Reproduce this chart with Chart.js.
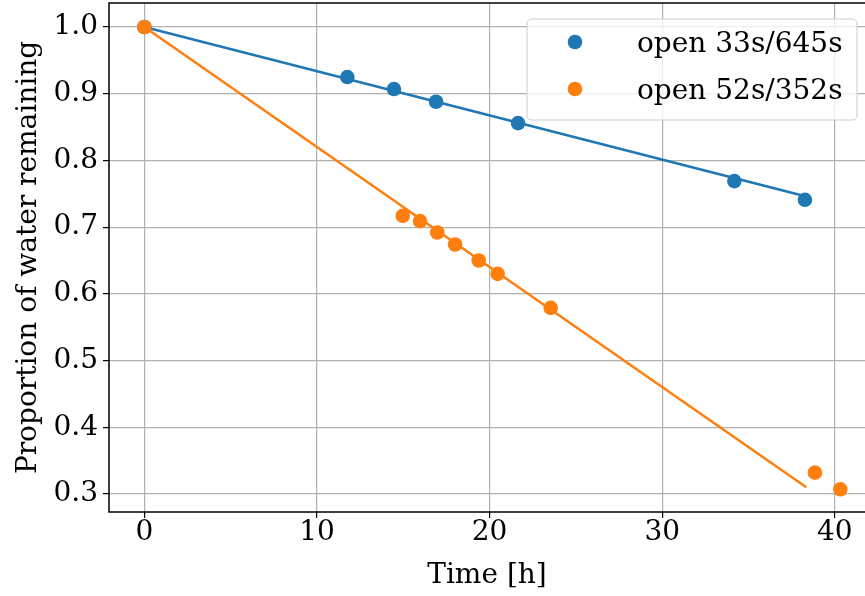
<!DOCTYPE html>
<html>
<head>
<meta charset="utf-8">
<script src="https://cdn.jsdelivr.net/npm/chart.js@4.4.1/dist/chart.umd.min.js"></script>
<style>
  html, body { margin: 0; padding: 0; background: #fff; }
</style>
</head>
<body>
<canvas id="waterChart" width="865" height="596"></canvas>
<script>
// measured points
const blueTime = [0, 11.76, 14.46, 16.9, 21.65, 34.18, 38.27];
const blueWater = [1.0, 0.925, 0.907, 0.888, 0.856, 0.769, 0.741];
const orangeTime = [0, 14.97, 15.97, 16.97, 18.0, 19.37, 20.47, 23.54, 38.85, 40.32];
const orangeWater = [1.0, 0.717, 0.709, 0.692, 0.674, 0.650, 0.630, 0.579, 0.332, 0.307];

// fitted lines (end points)
const blueFitTime = [0, 38.35];
const blueFitWater = [1.0, 0.746];
const orangeFitTime = [0, 38.35];
const orangeFitWater = [1.0, 0.310];

const seriesLabels = ['open 33s/645s', 'open 52s/352s'];
const xTicks = [0, 10, 20, 30, 40];
const yTicks = [0.3, 0.4, 0.5, 0.6, 0.7, 0.8, 0.9, 1.0];

const BLUE = '#1f77b4';
const ORANGE = '#ff7f0e';
const FONT = 'DejaVu Serif';

function toPoints(xs, ys) {
  return xs.map((x, i) => ({ x: x, y: ys[i] }));
}

// spines (left, top, bottom) and the in-plot legend box
const frameAndLegend = {
  id: 'frameAndLegend',
  afterDraw(chart) {
    const { ctx, chartArea: a } = chart;
    ctx.save();
    ctx.strokeStyle = '#000';
    ctx.lineWidth = 1.5;
    ctx.beginPath();
    ctx.moveTo(a.right, a.top);
    ctx.lineTo(a.left, a.top);
    ctx.lineTo(a.left, a.bottom);
    ctx.lineTo(a.right, a.bottom);
    ctx.stroke();

    const x0 = a.right - 338, y0 = a.top + 16, w = 330, h = 101, r = 5;
    ctx.beginPath();
    ctx.moveTo(x0 + r, y0);
    ctx.lineTo(x0 + w - r, y0);
    ctx.quadraticCurveTo(x0 + w, y0, x0 + w, y0 + r);
    ctx.lineTo(x0 + w, y0 + h - r);
    ctx.quadraticCurveTo(x0 + w, y0 + h, x0 + w - r, y0 + h);
    ctx.lineTo(x0 + r, y0 + h);
    ctx.quadraticCurveTo(x0, y0 + h, x0, y0 + h - r);
    ctx.lineTo(x0, y0 + r);
    ctx.quadraticCurveTo(x0, y0, x0 + r, y0);
    ctx.closePath();
    ctx.fillStyle = 'rgba(255,255,255,0.8)';
    ctx.fill();
    ctx.strokeStyle = '#cccccc';
    ctx.lineWidth = 1;
    ctx.stroke();

    seriesLabels.forEach((label, i) => {
      const d = chart.data.datasets.find(ds => ds.label === label);
      const my = y0 + 23 + i * 47;
      ctx.beginPath();
      ctx.arc(x0 + 48, my, 7.3, 0, Math.PI * 2);
      ctx.fillStyle = d.backgroundColor;
      ctx.fill();
      ctx.fillStyle = '#000';
      ctx.font = '28px "' + FONT + '"';
      ctx.textBaseline = 'middle';
      ctx.textAlign = 'left';
      ctx.fillText(label, x0 + 110, my + 3);
    });
    ctx.restore();
  }
};

function noPad(s) {
  s.paddingTop = 0;
  s.paddingBottom = 0;
  s.paddingLeft = 0;
  s.paddingRight = 0;
}

new Chart(document.getElementById('waterChart'), {
  type: 'scatter',
  data: {
    datasets: [
      {
        label: seriesLabels[1],
        data: toPoints(orangeTime, orangeWater),
        backgroundColor: ORANGE,
        pointRadius: 7.3,
        pointBorderWidth: 0,
        order: 0
      },
      {
        data: toPoints(orangeFitTime, orangeFitWater),
        showLine: true,
        borderColor: ORANGE,
        borderWidth: 2.5,
        pointRadius: 0,
        order: 1
      },
      {
        label: seriesLabels[0],
        data: toPoints(blueTime, blueWater),
        backgroundColor: BLUE,
        pointRadius: 7.3,
        pointBorderWidth: 0,
        order: 2
      },
      {
        data: toPoints(blueFitTime, blueFitWater),
        showLine: true,
        borderColor: BLUE,
        borderWidth: 2.5,
        pointRadius: 0,
        order: 3
      }
    ]
  },
  options: {
    responsive: false,
    animation: false,
    devicePixelRatio: 1,
    layout: { autoPadding: false, padding: { top: 3, right: 0, left: 0, bottom: 0 } },
    plugins: {
      legend: { display: false },
      tooltip: { enabled: false }
    },
    scales: {
      x: {
        type: 'linear',
        min: -2.05,
        max: 41.75,
        afterFit: s => { s.height = 84; noPad(s); },
        afterBuildTicks: s => { s.ticks = xTicks.map(v => ({ value: v })); },
        grid: { color: '#b0b0b0', lineWidth: 1.2, tickColor: '#000', tickLength: 6 },
        border: { display: false },
        ticks: {
          color: '#000',
          font: { family: FONT, size: 28 },
          padding: -2,
          maxRotation: 0,
          callback: v => String(v)
        },
        title: {
          display: true,
          text: 'Time [h]',
          color: '#000',
          font: { family: FONT, size: 28 },
          padding: { top: 0, bottom: 3 }
        }
      },
      y: {
        type: 'linear',
        min: 0.273,
        max: 1.036,
        afterFit: s => { s.width = 109; noPad(s); },
        afterBuildTicks: s => { s.ticks = yTicks.map(v => ({ value: v })); },
        grid: { color: '#b0b0b0', lineWidth: 1.2, tickColor: '#000', tickLength: 6 },
        border: { display: false },
        ticks: {
          color: '#000',
          font: { family: FONT, size: 28 },
          padding: 5,
          callback: v => v.toFixed(1)
        },
        title: {
          display: true,
          text: 'Proportion of water remaining',
          color: '#000',
          font: { family: FONT, size: 28 },
          padding: { top: 12, bottom: 0 }
        }
      }
    }
  },
  plugins: [frameAndLegend]
});
</script>
</body>
</html>
